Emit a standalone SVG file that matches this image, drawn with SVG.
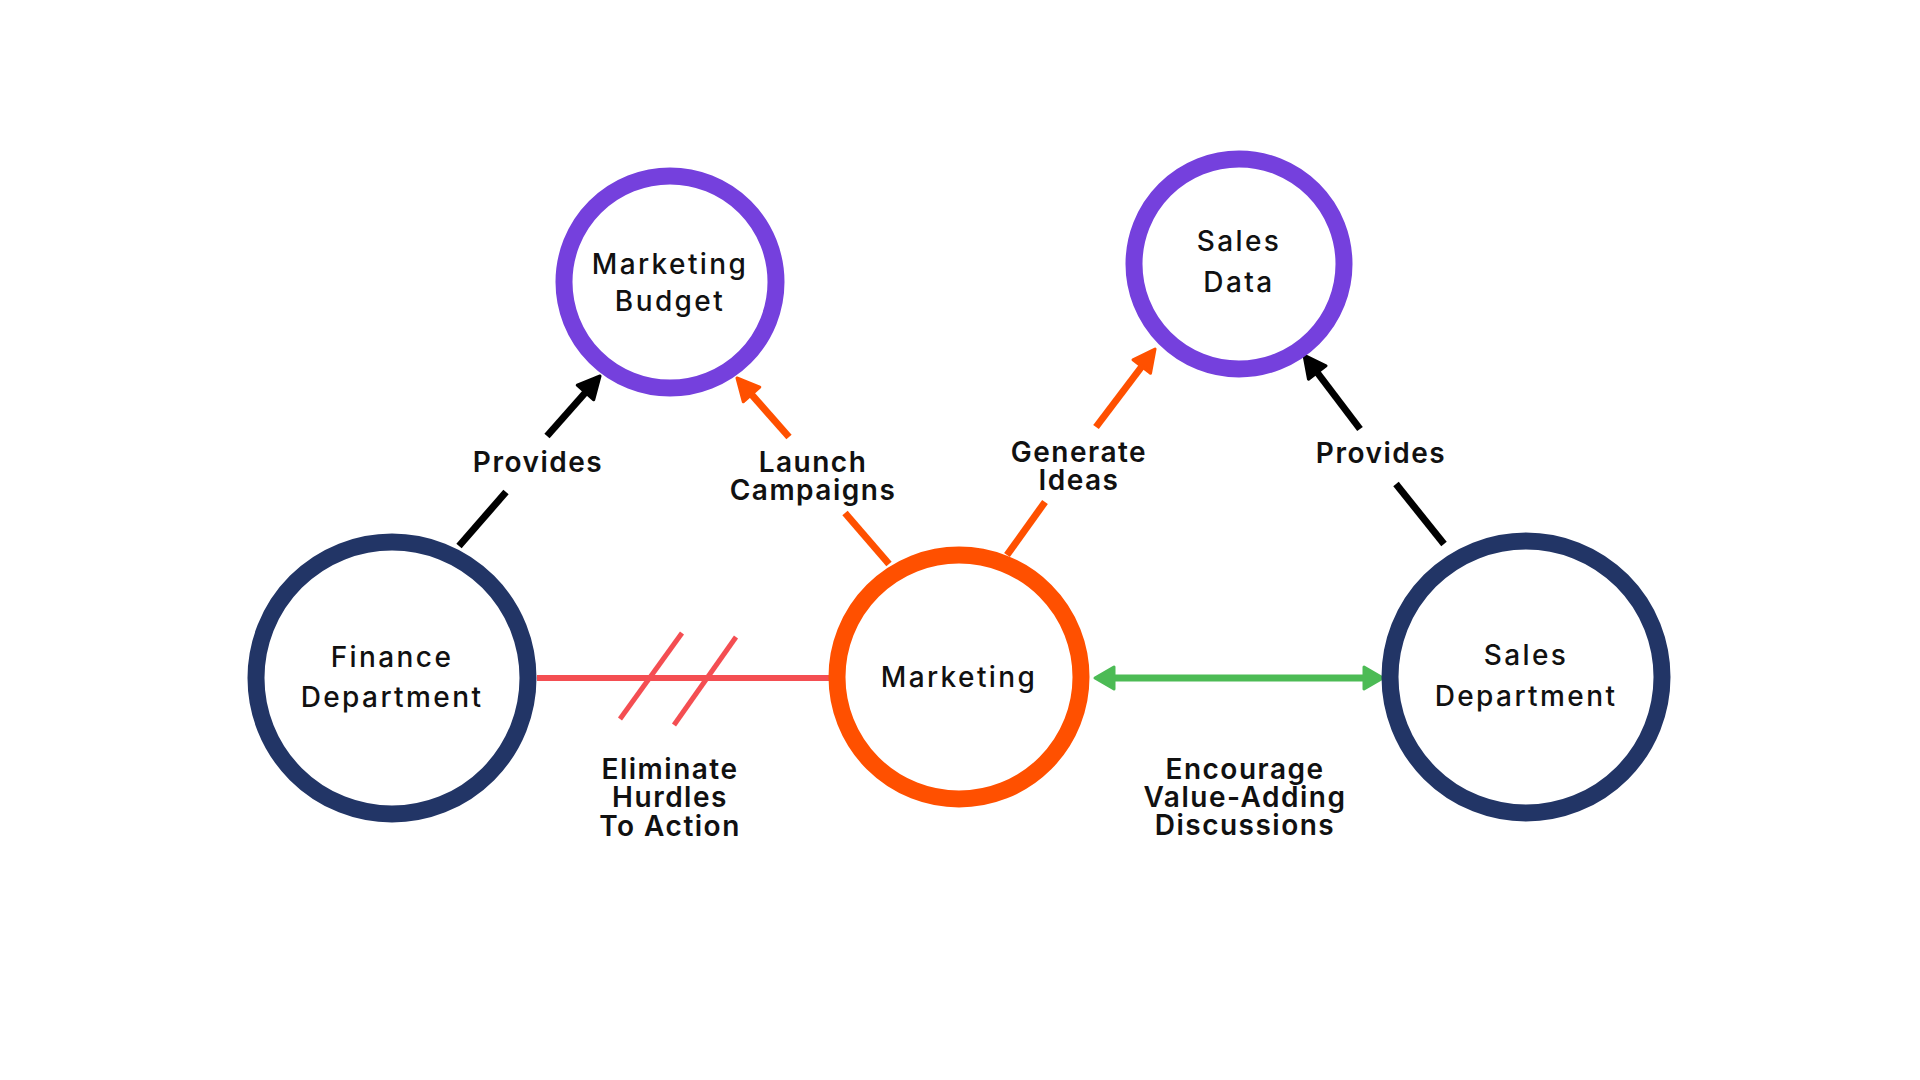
<svg xmlns="http://www.w3.org/2000/svg" width="1920" height="1080" viewBox="0 0 1920 1080">
<style>
.node-text{font-family:Inter,"Noto Sans","DejaVu Sans",sans-serif;font-size:28px;font-weight:500;fill:#111;text-anchor:middle;letter-spacing:2.4px}
.lbl{font-family:Inter,"Noto Sans","DejaVu Sans",sans-serif;font-size:28px;font-weight:600;fill:#111;text-anchor:middle;letter-spacing:1.5px}
.ring{fill:#fff;stroke-width:17}
.purple{stroke:#7540dd}
.navy{stroke:#223566}
.orange{stroke:#ff5000}
.conn{fill:none;stroke-width:7;stroke-linecap:butt}
</style>
<defs>
<marker id="ah-black" markerUnits="userSpaceOnUse" viewBox="-2 -14 28 28" markerWidth="28" markerHeight="28" refX="12" refY="0" orient="auto">
<path d="M0,-11 L22,0 L0,11 z" fill="#000" stroke="#000" stroke-width="3" stroke-linejoin="round"/>
</marker>
<marker id="ah-orange" markerUnits="userSpaceOnUse" viewBox="-2 -14 28 28" markerWidth="28" markerHeight="28" refX="12" refY="0" orient="auto">
<path d="M0,-11 L22,0 L0,11 z" fill="#ff5000" stroke="#ff5000" stroke-width="3" stroke-linejoin="round"/>
</marker>
<marker id="ah-green" markerUnits="userSpaceOnUse" viewBox="-2 -14 26 28" markerWidth="26" markerHeight="28" refX="10" refY="0" orient="auto-start-reverse">
<path d="M0,-11 L19,0 L0,11 z" fill="#4cbb55" stroke="#4cbb55" stroke-width="3" stroke-linejoin="round"/>
</marker>
</defs>
<rect width="1920" height="1080" fill="#fff"/>
<g id="connectors">
<line class="conn" stroke="#000" x1="459" y1="546" x2="506" y2="492"/>
<line class="conn" stroke="#000" x1="547" y1="436" x2="593.4" y2="383.5" marker-end="url(#ah-black)"/>
<line class="conn" stroke="#ff5000" x1="889" y1="564" x2="845" y2="513"/>
<line class="conn" stroke="#ff5000" x1="789" y1="437" x2="743.6" y2="385.5" marker-end="url(#ah-orange)"/>
<line class="conn" stroke="#ff5000" x1="1007" y1="555" x2="1045" y2="502"/>
<line class="conn" stroke="#ff5000" x1="1096" y1="427" x2="1149" y2="357" marker-end="url(#ah-orange)"/>
<line class="conn" stroke="#000" x1="1444" y1="544" x2="1396" y2="484"/>
<line class="conn" stroke="#000" x1="1360" y1="429" x2="1310" y2="363" marker-end="url(#ah-black)"/>
<line stroke="#f44e52" stroke-width="6" x1="537" y1="678" x2="830" y2="678"/>
<line stroke="#f44e52" stroke-width="5" x1="620" y1="719" x2="682" y2="633"/>
<line stroke="#f44e52" stroke-width="5" x1="674" y1="725" x2="736" y2="637"/>
<line stroke="#4cbb55" stroke-width="7" x1="1104" y1="678" x2="1374" y2="678" marker-start="url(#ah-green)" marker-end="url(#ah-green)"/>
<text class="lbl" x="538" y="472">Provides</text>
<text class="lbl" x="813" y="472">Launch</text>
<text class="lbl" x="813" y="500">Campaigns</text>
<text class="lbl" x="1079" y="462">Generate</text>
<text class="lbl" x="1079" y="490">Ideas</text>
<text class="lbl" x="1381" y="463">Provides</text>
<text class="lbl" x="670" y="779">Eliminate</text>
<text class="lbl" x="670" y="807">Hurdles</text>
<text class="lbl" x="670" y="836">To Action</text>
<text class="lbl" x="1245" y="779">Encourage</text>
<text class="lbl" x="1245" y="807">Value-Adding</text>
<text class="lbl" x="1245" y="835">Discussions</text>
</g>
<g id="node-marketing-budget">
<circle class="ring purple" cx="670" cy="282" r="106"/>
<text class="node-text" x="670" y="274">Marketing</text>
<text class="node-text" x="670" y="311">Budget</text>
</g>
<g id="node-sales-data">
<circle class="ring purple" cx="1239" cy="264" r="105"/>
<text class="node-text" x="1239" y="251">Sales</text>
<text class="node-text" x="1239" y="292">Data</text>
</g>
<g id="node-finance">
<circle class="ring navy" cx="392" cy="678" r="136"/>
<text class="node-text" x="392" y="667">Finance</text>
<text class="node-text" x="392" y="707">Department</text>
</g>
<g id="node-marketing">
<circle class="ring orange" cx="959" cy="677" r="122"/>
<text class="node-text" x="959" y="687">Marketing</text>
</g>
<g id="node-sales-department">
<circle class="ring navy" cx="1526" cy="677" r="136"/>
<text class="node-text" x="1526" y="665">Sales</text>
<text class="node-text" x="1526" y="706">Department</text>
</g>
</svg>
